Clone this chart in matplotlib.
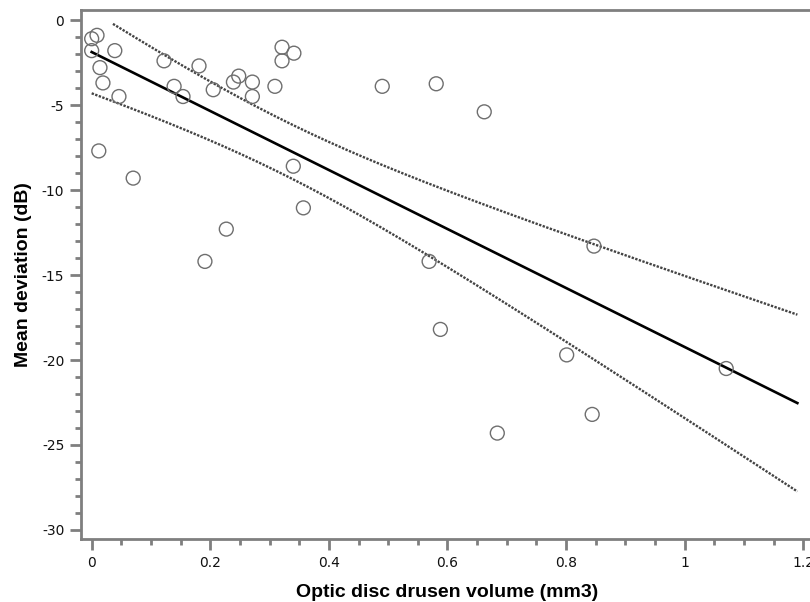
import numpy as np
import matplotlib.pyplot as plt

# optic disc drusen volume (mm3) vs mean deviation (dB)
volume = [0.000, 0.009, 0.000, 0.014, 0.019, 0.039, 0.046, 0.012, 0.070,
          0.122, 0.139, 0.154, 0.181, 0.205, 0.239, 0.248, 0.271, 0.271,
          0.309, 0.321, 0.321, 0.341, 0.340, 0.357, 0.227, 0.191, 0.490,
          0.581, 0.662, 0.569, 0.588, 0.847, 0.801, 0.844, 0.684, 1.070]
mean_dev = [-1.1, -0.9, -1.8, -2.8, -3.7, -1.8, -4.5, -7.7, -9.3,
            -2.4, -3.9, -4.5, -2.7, -4.1, -3.65, -3.3, -3.65, -4.5,
            -3.9, -1.6, -2.4, -1.95, -8.6, -11.05, -12.3, -14.2, -3.9,
            -3.75, -5.4, -14.2, -18.2, -13.3, -19.7, -23.2, -24.3, -20.5]

x_ticks = [0, 0.2, 0.4, 0.6, 0.8, 1, 1.2]
x_ticklabels = ["0", "0.2", "0.4", "0.6", "0.8", "1", "1.2"]
y_ticks = [0, -5, -10, -15, -20, -25, -30]


def fit_with_band(x, y, x_grid):
    x = np.asarray(x)
    y = np.asarray(y)
    n = len(x)
    slope, intercept = np.polyfit(x, y, 1)
    resid = y - (intercept + slope * x)
    s = np.sqrt(np.sum(resid ** 2) / (n - 2))
    t = 2.03  # t(0.975, df=34)
    sxx = np.sum((x - x.mean()) ** 2)
    fit = intercept + slope * x_grid
    half = t * s * np.sqrt(1.0 / n + (x_grid - x.mean()) ** 2 / sxx)
    return fit, fit - half, fit + half


xs = np.linspace(0, 1.19, 200)
fit, lo, hi = fit_with_band(volume, mean_dev, xs)

fig = plt.figure(figsize=(8.1, 6.02), dpi=100)
ax = fig.add_axes([81 / 810, 63 / 602, 733 / 810, 529 / 602])

ax.plot(xs, fit, color="black", lw=1.9)
ax.plot(xs, lo, color="#444444", lw=1.7, ls=(0, (1, 0.6)))
keep = hi <= -0.2
ax.plot(xs[keep], hi[keep], color="#444444", lw=1.7, ls=(0, (1, 0.6)))
ax.scatter(volume, mean_dev, s=100, facecolors="none", edgecolors="#6e6e6e",
           linewidths=1.0, zorder=3)

ax.set_xlim(-0.018, (814 - 91.7) / 593)
ax.set_ylim(-30.53, 0.59)

ax.set_xticks(x_ticks)
ax.set_xticklabels(x_ticklabels)
ax.set_xticks(np.arange(0, 1.21, 0.05), minor=True)
ax.set_yticks(y_ticks)
ax.set_yticklabels([str(v) for v in y_ticks])
ax.set_yticks(np.arange(-30, 0.1, 1), minor=True)

for side in ["top", "left", "bottom", "right"]:
    ax.spines[side].set_color("#7f7f7f")
    ax.spines[side].set_linewidth(2.0)

ax.tick_params(which="major", length=8, width=2.0, color="#7f7f7f",
               labelsize=10, labelcolor="#111111", pad=4)
ax.tick_params(which="minor", length=4.5, width=2.0, color="#7f7f7f")

ax.set_xlabel("Optic disc drusen volume (mm3)", fontsize=14, fontweight="bold",
              family="Liberation Sans", labelpad=10)
ax.set_ylabel("Mean deviation (dB)", fontsize=14, fontweight="bold",
              family="Liberation Sans", labelpad=7)

fig.savefig("out.png", dpi=100)
